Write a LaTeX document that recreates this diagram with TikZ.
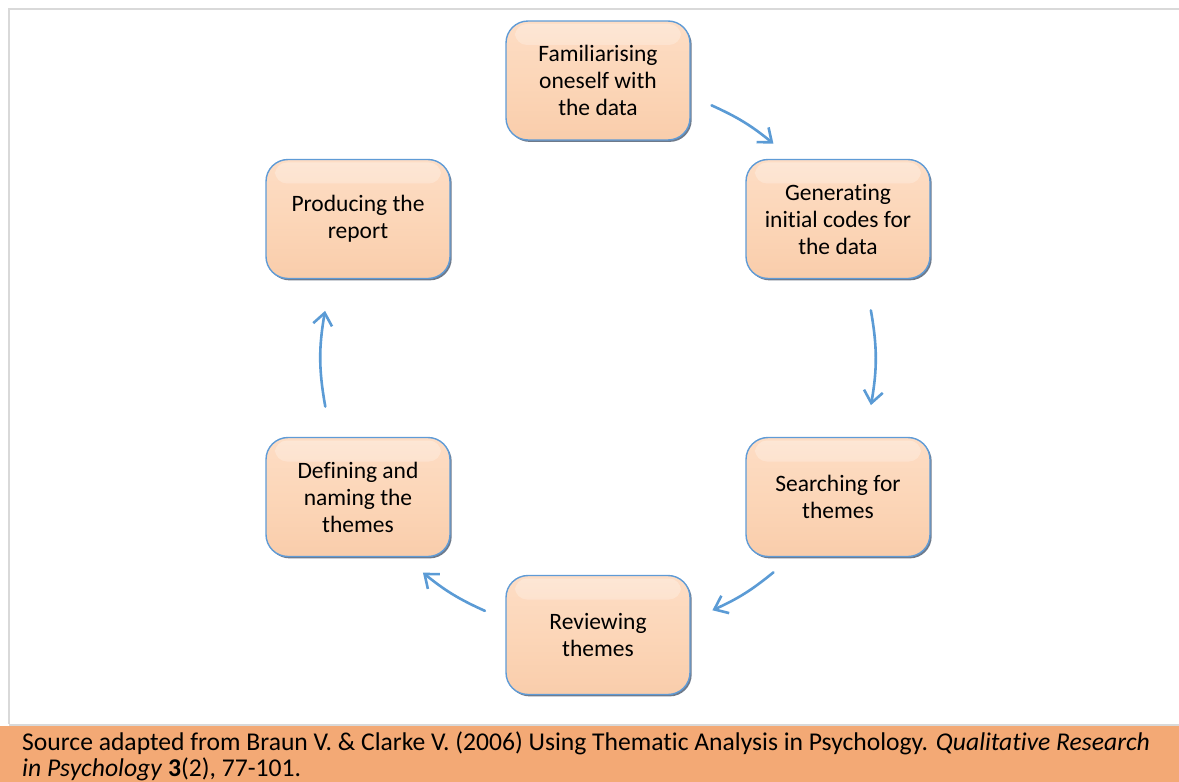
\documentclass[tikz,border=0pt]{standalone}
\usepackage{fontspec}
\setmainfont{Carlito}[Ligatures=NoCommon]
\usetikzlibrary{arrows.meta,shadows,fadings,calc}

\definecolor{peachtop}{HTML}{FDDDC5}
\definecolor{peachmid}{HTML}{FCD6B8}
\definecolor{peachbot}{HTML}{F9CDAB}
\definecolor{boxedge}{HTML}{5F9BD6}
\definecolor{bevel}{HTML}{3E4D63}
\definecolor{flow}{HTML}{5B9BD5}
\definecolor{framegray}{HTML}{D9D9D9}
\definecolor{band}{HTML}{F3A975}

\newcommand{\boxfont}{\fontsize{23.5}{27}\selectfont}
\newcommand{\notefont}{\fontsize{25.6}{26.5}\selectfont}

\tikzset{
  stage/.style={rectangle, rounded corners=22pt, minimum width=184pt,
    minimum height=119pt, inner sep=0pt, align=center, font=\boxfont,
    draw=boxedge, line width=1.4pt,
    top color=peachtop, bottom color=peachbot, middle color=peachmid,
    general shadow={fill=bevel, shadow xshift=1.7pt, shadow yshift=-1.9pt, opacity=.75},
    path picture={\fill[white, path fading=south, opacity=.3, rounded corners=12pt]
      ([xshift=9pt,yshift=-3pt]path picture bounding box.north west) rectangle
      ([xshift=-9pt,yshift=-24pt]path picture bounding box.north east);}},
  cyclearrow/.style={draw=flow, line width=2.6pt, line cap=round,
    -{Straight Barb[length=12pt,width=19pt]}},
}

\begin{document}
\begin{tikzpicture}[x=1pt, y=-1pt]
\useasboundingbox (0,0) rectangle (1179,782);

% frame and source band
\draw[framegray, line width=2pt] (8,9) -- (1179,9);
\draw[framegray, line width=2pt] (9,8) -- (9,724);
\fill[band] (0,725.5) rectangle (1179,782);
\draw[framegray, line width=2pt] (9,724.5) -- (1179,724.5);
\node[anchor=north west, inner sep=0pt, align=left, font=\notefont] (source) at (22,731.5)
  {Source adapted from Braun V. \& Clarke V. (2006) Using Thematic Analysis in Psychology. \textit{Qualitative Research}\\
   \textit{in Psychology} \textbf{3}(2), 77-101.};

% the six stages
\node[stage] (familiar) at (598,80.5) {Familiarising\\oneself with\\the data};
\node[stage] (codes)    at (838,219)  {Generating\\initial codes for\\the data};
\node[stage] (search)   at (838,497)  {Searching for\\themes};
\node[stage] (review)   at (598,635)  {Reviewing\\themes};
\node[stage] (define)   at (358,497)  {Defining and\\naming the\\themes};
\node[stage] (report)   at (358,219)  {Producing the\\report};

% arrow ends on the cycle circle
\coordinate (hub) at (598,358);
\coordinate (a1s) at ($(hub)+(65.8:277pt)$);
\coordinate (a1e) at ($(hub)+(50.7:277pt)$);
\coordinate (a2s) at ($(hub)+(9.9:277pt)$);
\coordinate (a2e) at ($(hub)+(-9.8:277pt)$);
\coordinate (a3s) at ($(hub)+(-50.7:277pt)$);
\coordinate (a3e) at ($(hub)+(-65.6:277pt)$);
\coordinate (a4s) at ($(hub)+(-114.1:277pt)$);
\coordinate (a4e) at ($(hub)+(-129.2:277pt)$);
\coordinate (a5s) at ($(hub)+(190.1:277pt)$);
\coordinate (a5e) at ($(hub)+(170.2:277pt)$);

\draw[cyclearrow] (a1s) to[bend left=7.5] (a1e);
\draw[cyclearrow] (a2s) to[bend left=10] (a2e);
\draw[cyclearrow] (a3s) to[bend left=7.5] (a3e);
\draw[cyclearrow] (a4s) to[bend left=7.5] (a4e);
\draw[cyclearrow] (a5s) to[bend left=10] (a5e);
\end{tikzpicture}
\end{document}
